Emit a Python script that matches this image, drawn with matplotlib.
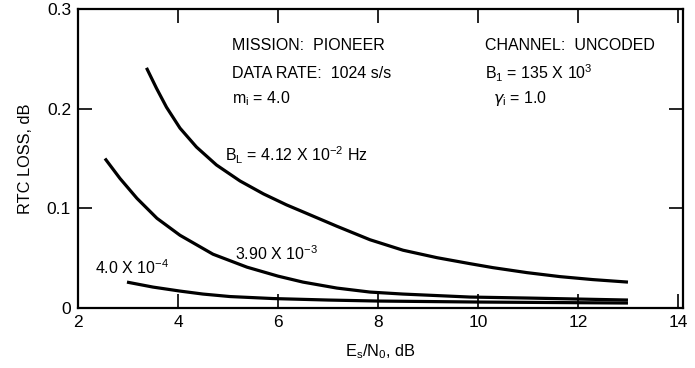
import matplotlib
matplotlib.use("Agg")
import matplotlib.pyplot as plt

plt.rcParams['font.family'] = ['Liberation Sans', 'DejaVu Sans']
plt.rcParams['mathtext.default'] = 'regular'

# Curve data (Es/N0 in dB, RTC loss in dB)
x_bl1 = [3.37, 3.57, 3.77, 4.04, 4.37, 4.77, 5.24, 5.71, 6.17, 6.50, 7.18, 7.84,
         8.50, 9.18, 9.84, 10.30, 10.98, 11.64, 12.30, 13.0]
y_bl1 = [0.241, 0.2205, 0.2015, 0.1805, 0.1615, 0.1435, 0.1275, 0.1145, 0.1035, 0.0965,
         0.0820, 0.0685, 0.0580, 0.0505, 0.0445, 0.0405, 0.0355, 0.0315, 0.0285, 0.026]

x_bl2 = [2.54, 2.84, 3.18, 3.58, 4.04, 4.70, 5.38, 6.00, 6.50, 7.18,
         7.84, 8.50, 9.84, 11.0, 12.0, 13.0]
y_bl2 = [0.150, 0.130, 0.110, 0.090, 0.073, 0.054, 0.041, 0.032, 0.026, 0.020,
         0.016, 0.014, 0.011, 0.010, 0.009, 0.008]

x_bl3 = [2.98, 3.50, 4.04, 4.50, 5.04, 5.90, 7.0, 8.0, 10.0, 11.5, 13.0]
y_bl3 = [0.026, 0.021, 0.017, 0.014, 0.0115, 0.0095, 0.008, 0.007, 0.006, 0.0055, 0.005]

xticks = [2, 4, 6, 8, 10, 12, 14]
yticks = [0, 0.1, 0.2, 0.3]
ytick_labels = ['0', '0.1', '0.2', '0.3']

fig = plt.figure(figsize=(6.95, 3.68), dpi=100)
ax = fig.add_axes([0.1122, 0.163, 0.8705, 0.8125])

for xs, ys in [(x_bl1, y_bl1), (x_bl2, y_bl2), (x_bl3, y_bl3)]:
    ax.plot(xs, ys, color='black', lw=2.3, solid_capstyle='butt',
            solid_joinstyle='round')

ax.set_xlim(2, 14.1)
ax.set_ylim(0, 0.3)
ax.set_xticks(xticks)
ax.set_xticklabels([str(t) for t in xticks], fontsize=12.5)
ax.set_yticks(yticks)
ax.set_yticklabels(ytick_labels, fontsize=12.5)
ax.tick_params(direction='in', length=10, width=1.2, top=True, right=True, pad=5)
for s in ax.spines.values():
    s.set_linewidth(1.6)

ax.set_xlabel('E$_s$/N$_0$, dB', fontsize=11.8, labelpad=9)
ax.set_ylabel('RTC LOSS, dB', fontsize=11.8, labelpad=10)

fs = 11.5
ax.text(5.08, 0.263, 'MISSION:  PIONEER', fontsize=fs, va='center')
ax.text(5.08, 0.235, 'DATA RATE:  1024 s/s', fontsize=fs, va='center')
ax.text(5.08, 0.210, 'm$_i$ = 4.0', fontsize=fs, va='center')
ax.text(10.14, 0.263, 'CHANNEL:  UNCODED', fontsize=fs, va='center')
ax.text(10.14, 0.235, 'B$_1$ = 135 X 10$^3$', fontsize=fs, va='center')
ax.text(10.30, 0.210, '$\\mathit{\\gamma}_i$ = 1.0', fontsize=fs, va='center')

ax.text(4.94, 0.153, 'B$_L$ = 4.12 X 10$^{-2}$ Hz', fontsize=fs, va='center')
ax.text(5.14, 0.055, '3.90 X 10$^{-3}$', fontsize=fs, va='center')
ax.text(2.34, 0.040, '4.0 X 10$^{-4}$', fontsize=fs, va='center')

fig.savefig('out.png', dpi=100)
